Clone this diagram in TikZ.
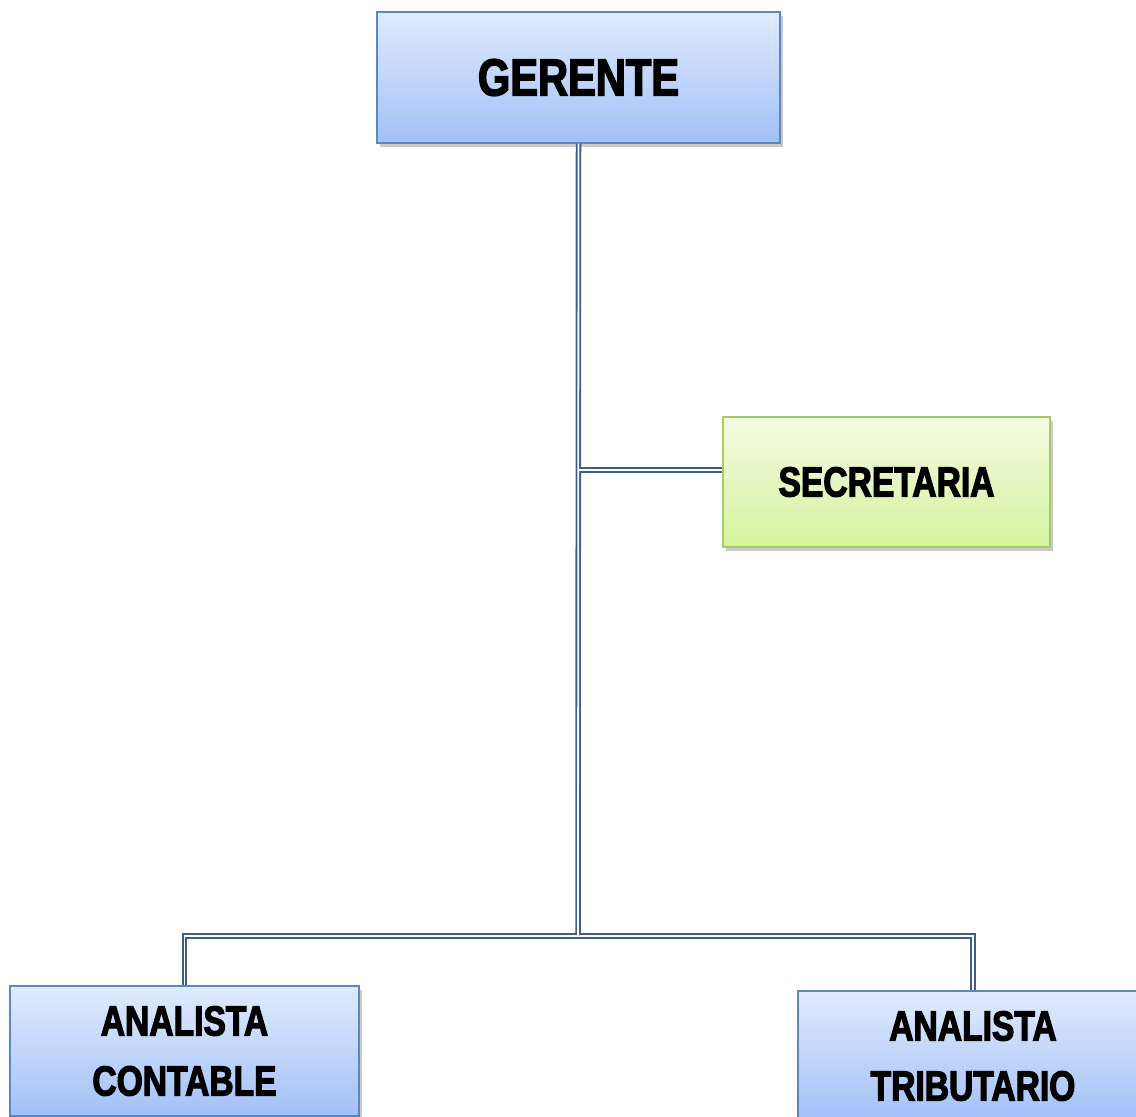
\documentclass[tikz,border=0pt]{standalone}
\usepackage{fontspec}
\setmainfont{Liberation Sans}
\newfontfamily\boxfont{Liberation Sans}[FakeStretch=0.8, BoldFeatures={FakeBold=2.8}]
\usetikzlibrary{shadows}
\definecolor{bluetop}{HTML}{E0EBFD}
\definecolor{bluebot}{HTML}{A2C0F7}
\definecolor{blueedge}{HTML}{5B86C2}
\definecolor{greentop}{HTML}{F3FBE3}
\definecolor{greenbot}{HTML}{D5F39E}
\definecolor{greenedge}{HTML}{A6C96A}
\definecolor{linecol}{HTML}{3E5C86}
\tikzset{
  orgbox/.style={draw=blueedge, line width=1.2pt, top color=bluetop, bottom color=bluebot,
    inner sep=0pt, align=center, font=\boxfont\bfseries,
    drop shadow={shadow xshift=3pt, shadow yshift=-4pt, opacity=0.35, fill=black!60}},
  greenbox/.style={orgbox, draw=greenedge, top color=greentop, bottom color=greenbot},
  connouter/.style={draw=linecol, line width=5.5pt},
  conninner/.style={draw=white, line width=1.8pt},
}
\begin{document}
\begin{tikzpicture}[x=1pt,y=-1pt]
\useasboundingbox (0,0) rectangle (1136,1117);
\clip (0,0) rectangle (1136,1117);
\node[orgbox, minimum width=403pt, minimum height=131pt,
      font=\boxfont\bfseries\fontsize{52}{60}\selectfont] (G) at (578.5,77.5) {GERENTE};
\node[greenbox, minimum width=327pt, minimum height=130pt,
      font=\boxfont\bfseries\fontsize{42}{60}\selectfont] (S) at (886.5,482) {SECRETARIA};
\node[orgbox, minimum width=349pt, minimum height=130pt,
      font=\boxfont\bfseries\fontsize{42}{60}\selectfont] (AC) at (184.5,1051) {ANALISTA\\CONTABLE};
\node[orgbox, minimum width=350pt, minimum height=130pt,
      font=\boxfont\bfseries\fontsize{42}{60}\selectfont] (AT) at (973,1056) {ANALISTA\\TRIBUTARIO};
\coordinate (J) at (578,936);
\coordinate (JS) at (578,470);
\foreach \st in {connouter,conninner}{
  \draw[\st] (G.south) -- (J);
  \draw[\st] (JS) -- (JS -| S.west);
  \draw[\st] (AC.north) |- (J) -| (AT.north);
}
\end{tikzpicture}
\end{document}
